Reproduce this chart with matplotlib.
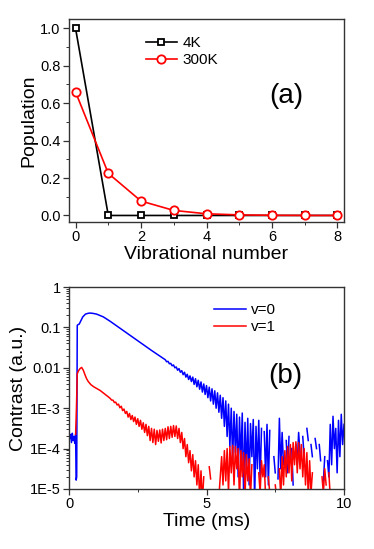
import numpy as np
import matplotlib
matplotlib.use("Agg")
import matplotlib.pyplot as plt
from matplotlib.ticker import FixedLocator, MultipleLocator, LogLocator, NullFormatter

plt.rcParams['font.family'] = ['Liberation Sans', 'DejaVu Sans']

# ---------------- Panel (a) data ----------------
vib_number = [0, 1, 2, 3, 4, 5, 6, 7, 8]
pop_4K = [1.0, 0.0, 0.0, 0.0, 0.0, 0.0, 0.0, 0.0, 0.0]
pop_300K = [0.66, 0.225, 0.077, 0.027, 0.009, 0.003, 0.001, 0.0003, 0.0001]

# ---------------- Panel (b) data (log10 of contrast) ----------------
# v=0, smooth early part (time in ms, log10 contrast)
v0_time_early = [0.00, 0.03, 0.06, 0.09, 0.12, 0.15, 0.18, 0.21, 0.24, 0.26, 0.28,
                 0.30, 0.33, 0.37, 0.42, 0.50, 0.60, 0.70, 0.76, 0.85, 1.00, 1.25,
                 1.50, 1.75, 2.00, 2.50, 3.00, 3.30]
v0_log_early = [-3.62, -3.75, -3.65, -3.85, -3.62, -3.80, -3.70, -3.87, -3.65, -4.78, -4.70,
                -0.95, -0.93, -0.92, -0.85, -0.74, -0.67, -0.65, -0.645, -0.65, -0.67, -0.74,
                -0.85, -0.97, -1.09, -1.33, -1.57, -1.71]
# v=0, noisy part, sampled every 0.05 ms starting at 3.5 ms
v0_noise_start = 3.5
v0_log_noise = [
    -1.80, -1.85, -1.84, -1.90, -1.89, -1.95, -1.93, -2.00, -1.98, -2.06,
    -2.02, -2.11, -2.07, -2.17, -2.11, -2.23, -2.16, -2.29, -2.20, -2.34,
    -2.23, -2.41, -2.27, -2.47, -2.31, -2.53, -2.35, -2.60, -2.40, -2.66,
    -2.44, -2.74, -2.48, -2.82, -2.52, -2.90, -2.57, -3.00, -2.62, -3.10,
    -2.68, -3.25, -2.74, -3.45, -2.82, -3.70, -2.90, -3.95, -3.00, -4.30,
    -3.08, -4.10, -3.15, -4.70, -3.22, -4.30, -3.12, -5.20, -3.35, -4.60,
    -3.25, -4.90, -3.38, -4.20, -3.28, -5.30, -3.45, -4.50, -3.30, -4.80,
    -3.50, np.nan, -3.58, -4.70, -3.40, -4.90, -3.55, np.nan, np.nan, -4.20,
    -4.60, np.nan, -4.75, -3.25, -4.50, -3.60, -4.40, np.nan, -3.80, -4.60,
    -3.70, np.nan, -4.00, -4.90, np.nan, -3.90, -4.40, -3.60, -4.10, np.nan,
    -3.70, -4.20, np.nan, -3.50, -3.80, np.nan, -3.90, -4.20, np.nan, -3.75,
    -4.00, np.nan, -3.90, -4.30, np.nan, -4.80, -4.20, np.nan, -4.30, -4.70,
    -3.40, -4.40, -3.20, -4.00, -3.50, -4.60, -3.30, -4.20, -3.15, -3.90,
    -3.40,
]

# v=1, smooth early part
v1_time_early = [0.24, 0.27, 0.30, 0.34, 0.40, 0.46, 0.52, 0.58, 0.64, 0.70,
                 0.80, 0.90, 1.00, 1.13, 1.30, 1.45]
v1_log_early = [-3.65, -3.00, -2.15, -2.08, -2.02, -1.99, -2.06, -2.17, -2.27, -2.34,
                -2.42, -2.47, -2.51, -2.56, -2.65, -2.73]
# v=1, noisy part, sampled every 0.05 ms starting at 1.5 ms
v1_noise_start = 1.5
v1_log_noise = [
    -2.76, -2.80, -2.80, -2.86, -2.85, -2.92, -2.90, -2.99, -2.95, -3.06,
    -3.02, -3.13, -3.08, -3.22, -3.13, -3.28, -3.18, -3.33, -3.22, -3.40,
    -3.26, -3.45, -3.30, -3.52, -3.36, -3.60, -3.40, -3.68, -3.45, -3.80,
    -3.50, -3.85, -3.52, -3.90, -3.55, -3.82, -3.54, -3.86, -3.52, -3.80,
    -3.50, -3.78, -3.46, -3.75, -3.45, -3.72, -3.43, -3.70, -3.44, -3.75,
    -3.50, -3.85, -3.60, -4.00, -3.75, -4.20, -3.90, -4.35, -4.05, -4.55,
    -4.15, -4.70, -4.30, -4.90, -4.40, -5.20, -4.55, -5.30, -4.70, np.nan,
    -4.80, np.nan, -4.45, -4.75, np.nan, np.nan, -4.85, np.nan, np.nan, -5.20,
    -4.70, -4.20, -4.90, -4.05, -4.80, -4.00, -5.10, -3.95, -4.60, -3.92,
    -4.90, -3.95, -4.50, -4.00, -5.30, -4.05, -4.70, -4.10, -5.20, -4.15,
    -4.80, -4.25, -5.20, -4.40, np.nan, -4.90, np.nan, np.nan, -4.60, -5.10,
    -4.30, -4.70, -4.40, -5.20, np.nan, -4.70, -5.10, np.nan, np.nan, np.nan,
    -4.90, -5.20, np.nan, -4.50, -5.20, -4.20, -4.90, -4.05, -4.70, -3.95,
    -4.60, -3.90, -4.80, -3.85, -4.40, -3.83, -4.60, -3.85, -4.50, -3.90,
    -4.70, -4.00, -4.90, -4.10, -5.20, -4.30, -5.10, -4.60, np.nan, np.nan,
    np.nan, np.nan, np.nan, np.nan, -4.70, -5.10, -4.50, -4.90, np.nan, -4.60,
    -5.20, np.nan, np.nan, np.nan, np.nan, np.nan, np.nan, np.nan, np.nan, np.nan,
    np.nan,
]
sample_step = 0.05

x_ticks_a = [0, 2, 4, 6, 8]
y_ticks_a = [0.0, 0.2, 0.4, 0.6, 0.8, 1.0]
y_ticks_b = [1, 0.1, 0.01, 1e-3, 1e-4, 1e-5]
y_ticklabels_b = ["1", "0.1", "0.01", "1E-3", "1E-4", "1E-5"]
x_ticks_b = [0, 5, 10]

# ---------------- Figure ----------------
fig = plt.figure(figsize=(3.74, 5.49), dpi=100)
spine_col = '#333333'

# Panel (a)
ax1 = fig.add_axes([0.1845, 0.5956, 0.7353, 0.3698])
ax1.plot(vib_number, pop_4K, '-s', color='black', lw=1.2, ms=5, mfc='white',
         mec='black', mew=1.3, label='4K', zorder=3)
ax1.plot(vib_number, pop_300K, '-o', color='#ff0000', lw=1.2, ms=6, mfc='white',
         mec='#ff0000', mew=1.3, label='300K', zorder=4)
ax1.set_xlim(-0.2, 8.2)
ax1.set_ylim(-0.035, 1.05)
ax1.set_xticks(x_ticks_a)
ax1.set_yticks(y_ticks_a)
ax1.set_yticklabels([f"{v:.1f}" for v in y_ticks_a])
ax1.xaxis.set_minor_locator(MultipleLocator(1))
ax1.yaxis.set_minor_locator(MultipleLocator(0.1))
ax1.set_xlabel('Vibrational number', fontsize=14, labelpad=1)
ax1.set_ylabel('Population', fontsize=14, labelpad=2)
ax1.text(0.79, 0.62, '(a)', transform=ax1.transAxes, fontsize=20,
         ha='center', va='center')
leg1 = ax1.legend(loc='upper left', bbox_to_anchor=(0.28, 0.915), frameon=False,
                  fontsize=11, handlelength=2.0, handletextpad=0.4, labelspacing=0.2,
                  borderpad=0.0, borderaxespad=0.0)

# Panel (b)
ax2 = fig.add_axes([0.1845, 0.1093, 0.7353, 0.3679])
v0_time = list(v0_time_early) + [v0_noise_start + sample_step * i for i in range(len(v0_log_noise))]
v0_vals = 10.0 ** np.array(list(v0_log_early) + list(v0_log_noise), dtype=float)
v1_time = list(v1_time_early) + [v1_noise_start + sample_step * i for i in range(len(v1_log_noise))]
v1_vals = 10.0 ** np.array(list(v1_log_early) + list(v1_log_noise), dtype=float)
ax2.plot(v0_time, v0_vals, color='#0000ff', lw=1.1, label='v=0')
ax2.plot(v1_time, v1_vals, color='#ff0000', lw=1.1, label='v=1')
ax2.set_yscale('log')
ax2.set_xlim(0, 10)
ax2.set_ylim(1e-5, 1)
ax2.set_xticks(x_ticks_b)
ax2.xaxis.set_minor_locator(FixedLocator([2.5, 7.5]))
ax2.set_yticks(y_ticks_b)
ax2.set_yticklabels(y_ticklabels_b)
ax2.yaxis.set_minor_locator(LogLocator(base=10, subs=np.arange(2, 10)))
ax2.yaxis.set_minor_formatter(NullFormatter())
ax2.set_xlabel('Time (ms)', fontsize=14, labelpad=1)
ax2.set_ylabel('Contrast (a.u.)', fontsize=14, labelpad=2)
ax2.text(0.785, 0.557, '(b)', transform=ax2.transAxes, fontsize=20,
         ha='center', va='center')
leg2 = ax2.legend(loc='upper left', bbox_to_anchor=(0.527, 0.92), frameon=False,
                  fontsize=11, handlelength=2.1, handletextpad=0.3, labelspacing=0.2,
                  borderpad=0.0, borderaxespad=0.0)

for ax in (ax1, ax2):
    for s in ax.spines.values():
        s.set_color(spine_col)
        s.set_linewidth(1.0)
    ax.tick_params(which='major', direction='out', length=4, width=0.9,
                   labelsize=10.5, colors=spine_col, labelcolor='black', pad=2)
    ax.tick_params(which='minor', direction='out', length=2, width=0.7, colors=spine_col)

fig.savefig('out.png', dpi=100)
